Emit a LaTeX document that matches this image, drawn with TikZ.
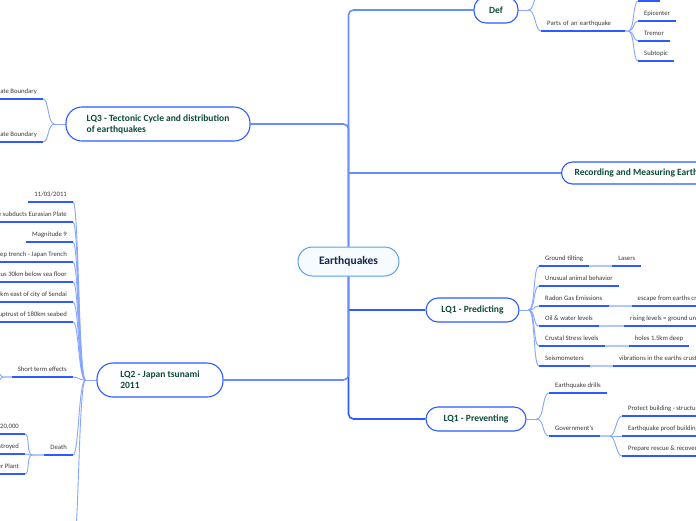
\documentclass[tikz,border=0pt]{standalone}
\usepackage{fontspec}
\setmainfont{Carlito}
\usetikzlibrary{calc}
\definecolor{trunkc}{HTML}{2D5BFF}
\definecolor{trunkl}{HTML}{6A8CFF}
\definecolor{brc}{HTML}{86A6FF}
\definecolor{ulc}{HTML}{2D5BFF}
\definecolor{lnkc}{HTML}{B3C6FF}
\definecolor{ttlc}{HTML}{0E4A3B}
\definecolor{ctrc}{HTML}{15254A}
\definecolor{txtc}{HTML}{3A3A3A}
\definecolor{cborder}{HTML}{5C9FE3}
\definecolor{cfill}{HTML}{F6FBFF}
\begin{document}
\begin{tikzpicture}[x=1pt,y=-1pt,
  mainbox/.style={draw=trunkc, line width=1.1pt, fill=white, rounded corners=12pt,
    minimum height=24pt, font=\fontsize{9.5}{11}\selectfont\bfseries, text=ttlc,
    inner xsep=12pt, align=left},
  hub/.style={draw=cborder, line width=1pt, fill=cfill, rounded corners=14.5pt,
    minimum width=101pt, minimum height=29pt,
    font=\fontsize{11.5}{13}\selectfont\bfseries, text=ctrc},
  topic/.style={font=\fontsize{6.7}{8}\selectfont, text=txtc, inner xsep=6pt,
    inner ysep=5.5pt, text height=4.5pt, text depth=0pt},
  trunkline/.style={draw=trunkc, line width=1.6pt, rounded corners=5pt},
  trunklite/.style={draw=trunkl, line width=1.6pt, rounded corners=5pt},
  branch/.style={draw=brc, line width=0.9pt},
  uline/.style={draw=ulc, line width=1.4pt},
  blink/.style={draw=lnkc, line width=1.4pt}
]
\useasboundingbox (0,0) rectangle (696,520);
\fill[white] (0,0) rectangle (696,520);
\clip (0,0) rectangle (696,520);

% ---------- main nodes ----------
\node[hub] (c) at (348.5,261.5) {Earthquakes};
\node[mainbox, minimum width=44pt, minimum height=26pt] (def) at (496,10) {Def};
\node[mainbox, anchor=west, minimum height=22pt, inner xsep=13pt, rounded corners=11pt] (rec) at (561,173) {Recording and Measuring Earthquakes};
\node[mainbox, minimum width=93pt] (pred) at (472.5,310) {LQ1 - Predicting};
\node[mainbox, minimum width=100pt] (prev) at (476,419) {LQ1 - Preventing};
\node[mainbox, minimum width=184pt, minimum height=34pt, rounded corners=16pt] (lq3) at (158,124) {LQ3 - Tectonic Cycle and distribution\\of earthquakes};
\node[mainbox, minimum width=126pt, minimum height=34pt, rounded corners=16pt] (lq2) at (160,380) {LQ2 - Japan tsunami\\2011};

% ---------- trunk ----------
\draw[trunklite] (def.west) -| (c.north);
\draw[trunkline] (c.south) |- (prev.west);
\draw[trunklite] (rec.west) -- (rec.west -| c);
\draw[trunkline] (pred.west) -- (pred.west -| c);
\draw[trunklite] (lq3.east) -| (c.north);
\draw[trunklite] (lq2.east) -| (c.south);

% ---------- Def ----------
\coordinate (dj) at ($(def.east)+(10,0)$);
\coordinate (dup) at (541,-16);
\node[topic, anchor=south west, text width=72pt, align=left] (parts) at (541,31) {Parts of an earthquake};
\coordinate (pj2) at ($(parts.south east)+(3,0)$);
\node[topic, anchor=south west, minimum width=22pt] (p0) at (638,1) {};
\node[topic, anchor=south west] (p1) at (638,21) {Epicenter};
\node[topic, anchor=south west] (p2) at (638,41) {Tremor};
\node[topic, anchor=south west] (p3) at (638,61) {Subtopic};
\draw[branch] (def.east) -- (dj);
\draw[branch] (dj) .. controls +(7,0) and +(-6,0) .. (dup);
\draw[branch] (dj) .. controls +(7,0) and +(-6,0) .. (parts.south west);
\draw[blink] (parts.south east) -- (pj2);
\foreach \n in {p0,p1,p2,p3}
  \draw[branch] (pj2) .. controls +(6,0) and +(-5,0) .. (\n.south west);

% ---------- LQ1 Predicting ----------
\coordinate (pj) at ($(pred.east)+(9,0)$);
\node[topic, anchor=south west] (gt) at (539,266) {Ground tilting};
\node[topic, anchor=south west] (ua) at (539,286) {Unusual animal behavior};
\node[topic, anchor=south west] (rg) at (539,306) {Radon Gas Emissions};
\node[topic, anchor=south west] (ow) at (539,326) {Oil \& water levels};
\node[topic, anchor=south west] (cs) at (539,346) {Crustal Stress levels};
\node[topic, anchor=south west] (se) at (539,366) {Seismometers};
\node[topic, anchor=south west] (las) at ($(gt.south east)+(23,0)$) {Lasers};
\node[topic, anchor=south west] (esc) at ($(rg.south east)+(23,0)$) {escape from earths crust};
\node[topic, anchor=south west] (ris) at ($(ow.south east)+(25,0)$) {rising levels = ground unstable};
\node[topic, anchor=south west] (hol) at ($(cs.south east)+(24,0)$) {holes 1.5km deep};
\node[topic, anchor=south west] (vib) at ($(se.south east)+(23,0)$) {vibrations in the earths crust};
\draw[branch] (pred.east) -- (pj);
\foreach \n in {gt,ua,rg,ow,cs,se}
  \draw[branch] (pj) .. controls +(7,0) and +(-6,0) .. (\n.south west);
\draw[blink] (gt.south east) -- (las.south west);
\draw[blink] (rg.south east) -- (esc.south west);
\draw[blink] (ow.south east) -- (ris.south west);
\draw[blink] (cs.south east) -- (hol.south west);
\draw[blink] (se.south east) -- (vib.south west);

% ---------- LQ1 Preventing ----------
\coordinate (vj) at ($(prev.east)+(10,0)$);
\node[topic, anchor=south west] (dr) at (549,393) {Earthquake drills};
\node[topic, anchor=south west] (gov) at (549,436) {Government's};
\coordinate (gj) at ($(gov.south east)+(10,0)$);
\node[topic, anchor=south west] (g1) at (622,416) {Protect building - structure};
\node[topic, anchor=south west] (g2) at (622,436) {Earthquake proof buildings};
\node[topic, anchor=south west] (g3) at (622,456) {Prepare rescue \& recovery};
\draw[branch] (prev.east) -- (vj);
\foreach \n in {dr,gov}
  \draw[branch] (vj) .. controls +(8,0) and +(-7,0) .. (\n.south west);
\draw[blink] (gov.south east) -- (gj);
\foreach \n in {g1,g2,g3}
  \draw[branch] (gj) .. controls +(6,0) and +(-6,0) .. (\n.south west);

% ---------- LQ3 ----------
\coordinate (l3j) at ($(lq3.west)+(-11,0)$);
\node[topic, anchor=south east] (pb1) at (43,99) {Destructive Plate Boundary};
\node[topic, anchor=south east] (pb2) at (43,142) {Constructive Plate Boundary};
\draw[branch] (lq3.west) -- (l3j);
\foreach \n in {pb1,pb2}
  \draw[branch] (l3j) .. controls +(-7,0) and +(6,0) .. (\n.south east);

% ---------- LQ2 ----------
\coordinate (l2j) at ($(lq2.west)+(-11,0)$);
\node[topic, anchor=south east] (k1) at (73,202) {11/03/2011};
\node[topic, anchor=south east] (k2) at (73,222) {Pacific Plate subducts Eurasian Plate};
\node[topic, anchor=south east] (k3) at (73,242) {Magnitude 9};
\node[topic, anchor=south east] (k4) at (73,262) {Deep trench - Japan Trench};
\node[topic, anchor=south east] (k5) at (73,282) {Focus 30km below sea floor};
\node[topic, anchor=south east] (k6) at (73,302) {Epicentre 130km east of city of Sendai};
\node[topic, anchor=south east] (k7) at (73,322) {Caused uptrust of 180km seabed};
\node[topic, anchor=south east, minimum width=60pt, align=right] (st) at (73,377) {Short term effects};
\node[topic, anchor=south east, minimum width=26pt] (dth) at (73,455) {Death};
\coordinate (kx) at (73,548);
\draw[branch] (lq2.west) -- (l2j);
\foreach \n in {k1,k2,k3,k4,k5,k6,k7,st,dth}
  \draw[branch] (l2j) .. controls +(-7,0) and +(6,0) .. (\n.south east);
\draw[branch] (l2j) .. controls +(-7,0) and +(6,0) .. (kx);

% short term effects children
\coordinate (sj) at ($(st.south west)+(-8,0)$);
\coordinate (s1) at (-12,357);
\coordinate (s2) at (-12,397);
\draw[blink] (st.south west) -- (sj);
\draw[branch] (sj) .. controls +(-6,0) and +(5,0) .. (s1);
\draw[branch] (sj) .. controls +(-6,0) and +(5,0) .. (s2);

% death children
\coordinate (ddj) at ($(dth.south west)+(-12,0)$);
\node[topic, anchor=south east] (d1) at (25,434) {20,000};
\node[topic, anchor=south east] (d2) at (25,454) {Homes destroyed};
\node[topic, anchor=south east] (d3) at (25,474) {Nuclear Power Plant};
\draw[blink] (dth.south west) -- (ddj);
\foreach \n in {d1,d2,d3}
  \draw[branch] (ddj) .. controls +(-6,0) and +(5,0) .. (\n.south east);

% ---------- underlines ----------
\foreach \n in {parts,p0,p1,p2,p3,gt,ua,rg,ow,cs,se,las,esc,ris,hol,vib,dr,gov,g1,g2,g3,pb1,pb2,k1,k2,k3,k4,k5,k6,k7,st,dth,d1,d2,d3}
  \draw[uline] (\n.south west) -- (\n.south east);
\end{tikzpicture}
\end{document}
